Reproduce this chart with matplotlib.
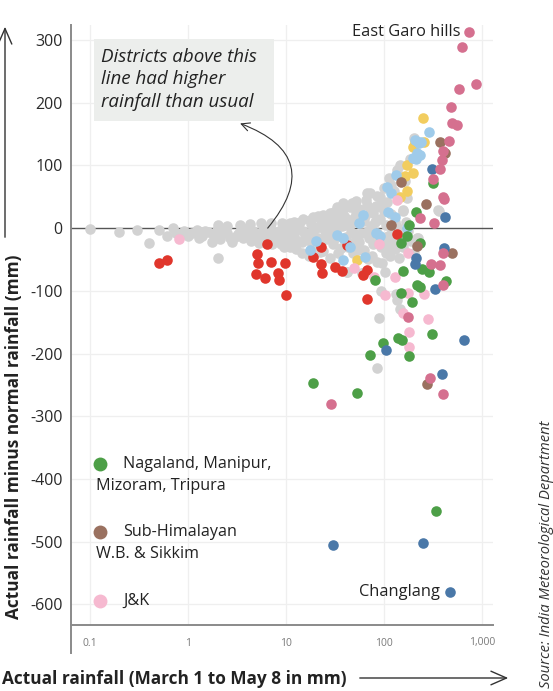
import matplotlib
matplotlib.use('Agg')
import matplotlib.pyplot as plt
from matplotlib.patches import Rectangle, FancyArrowPatch
from matplotlib.lines import Line2D

plt.rcParams['font.family'] = ['Open Sans', 'DejaVu Sans']

# ---------------- data (actual rainfall mm, departure mm) ----------------
gray_x = [0.10, 0.20, 0.30, 0.40, 0.51, 0.61, 0.70, 0.75, 0.9, 1.0, 1.23, 1.4, 1.6, 1.75, 1.97, 2.0,
          2.2, 2.5, 2.7, 3.0, 3.4, 3.8, 4.1, 4.6, 5.0, 5.8, 6.2, 7.0, 7.5, 8.0, 8.8, 9.5, 10, 11,
          12, 13, 14.5, 16, 18, 20, 22, 25, 28, 30, 33, 36, 40, 42, 44, 48, 50, 55, 59, 62, 70, 75,
          2.0, 2.5, 3.4, 4.3, 5.5, 7.0, 9.2, 11, 12, 14, 15, 17.6, 19, 22, 24, 28, 28, 33, 33, 37,
          38, 38, 45, 47, 56, 67, 67, 72, 78, 85, 91, 96, 100, 107, 118, 136, 158, 158, 172, 202,
          355, 363, 217, 223, 10, 13, 15, 18, 20, 23, 26, 30, 32, 35, 40, 42, 46, 50, 55, 58, 63,
          68, 72, 80, 85, 90, 95, 105, 110, 120, 130, 140, 150, 89, 93, 136, 146, 132, 96, 85, 59,
          42, 107, 128, 85, 102, 115, 175, 190, 200, 8.5, 9.8, 11.5, 6.8, 16.5, 21, 26, 31, 52,
          65, 82, 112, 125, 145, 165, 185,
          1.1, 1.3, 1.5, 1.8, 2.1, 2.4, 2.8, 3.2, 3.6, 4.0, 4.4, 4.8, 5.3, 5.6, 6.0, 6.6, 7.2, 7.8,
          8.4, 9.0, 9.6, 10.5, 11.5, 12.5, 13.5, 14.5, 15.5, 17, 18.5, 19.5, 21, 22.5, 24, 25.5,
          27, 29, 31, 34, 37, 39, 41, 43, 46, 49, 52, 54, 57, 60, 64, 69, 74, 78, 83, 88, 94, 99,
          104, 112, 118, 125, 135, 142, 155, 168]
gray_y = [-2, -6, -3, -24, -3, -13, 0, -8, -5, -13, -3, -12, -6, -22, -3, -48,
          -2, -8, -16, -14, -6, -2, -11, -4, -16, 0, -10, -4, -18, -8, -25, -14, -3, -30,
          -12, -20, -40, -8, -22, -15, -38, -5, -48, -25, -12, -32, -20, -70, -27, -40, -10, -22, -72, -35, -15, -45,
          5, 3, 5, 6, 8, 8, 8, 8, 10, 10, 14, 13, 18, 18, 21, 16, 24, 21, 34, 32,
          31, 40, 33, 40, 30, 37, 56, 56, 24, 51, 49, 40, 64, 41, 69, 92, 29, 27, 48, 143,
          29, 27, -16, -16, 2, 3, -5, 6, 0, 10, 4, 8, -3, 12, 5, 15, -6, 18, 8, 22, 12,
          -4, 30, 10, -8, 15, -20, 5, -12, -3, 10, -20, -8, -143, -100, -115, -129, -105, -56, -54, -72,
          -70, -32, -34, -223, -70, -45, -5, -20, -40, -12, -20, -5, 4, -18, 20, -14, 26, 44,
          45, 35, 80, 60, 100, 75, 110,
          -8, -16, -4, -10, -18, -4, -22, -9, -15, -6, -20, -9, -24, -12, -3, -17, -26, -11,
          -4, -16, -30, -20, -8, -34, -2, -22, -12, -44, -5, -28, -16, 2, -36, -18,
          -8, 12, -18, -40, 4, 20, -14, -30, 8, -22, 26, -35, 14, -8, 20, -50, 4, -25, 34, -14, -30, 28,
          -40, -18, 22, -25, 2, -48, -30, 10]

red_x = [0.51, 0.61, 6.4, 5.0, 5.2, 7.0, 9.8, 4.9, 6.1, 8.3, 8.5, 10, 18.9, 22.7, 23.3,
         31.6, 37, 23, 42, 67, 61, 136, 67]
red_y = [-56, -51, -26, -41, -56, -54, -56, -73, -80, -72, -83, -107, -46, -57, -72,
         -62, -69, -30, -27, -66, -75, -9, -113]

yellow_x = [250, 256, 198, 172, 198, 164, 172, 146, 53, 207]
yellow_y = [175, 137, 129, 100, 88, 83, 59, 49, -51, 137]

lightblue_x = [288, 207, 223, 230, 217, 233, 198, 210, 107, 118, 132, 110, 128, 56, 61, 172,
               38, 38, 17.6, 64, 83, 33, 240, 92, 20, 45]
lightblue_y = [153, 140, 137, 135, 120, 116, 112, 110, 65, 56, 85, 26, 18, 8, 21, 0,
               -16, -51, -35, -46, -8, -11, 138, -12, -20, -30]

blue_x = [308, 419, 409, 212, 207, 331, 655, 105, 391, 30, 251, 471]
blue_y = [94, 18, -32, -48, -57, -97, -179, -195, -233, -505, -503, -580]

mauve_x = [736, 625, 582, 870, 483, 494, 556, 460, 400, 391, 372, 316, 400, 409, 323, 233,
           302, 372, 400, 400, 176, 294, 400, 28.8]
mauve_y = [313, 289, 222, 230, 193, 167, 164, 139, 123, 108, 94, 78, 49, 46, 8, 16,
           -57, -59, -91, -40, -142, -239, -265, -281]

brown_x = [372, 419, 149, 270, 118, 217, 494, 276]
brown_y = [137, 120, 73, 38, 5, -29, -40, -249]

green_x = [316, 212, 180, 172, 149, 233, 244, 288, 158, 81, 430, 217, 233, 149, 193, 309,
           98, 139, 151, 72, 180, 18.9, 53, 339]
green_y = [72, 26, 5, -13, -24, -24, -65, -70, -68, -83, -84, -91, -94, -104, -118, -169,
           -183, -175, -179, -203, -204, -247, -263, -451]

jk_x = [0.81, 89, 176, 79, 129, 102, 176, 256, 158, 281, 180, 180, 49, 136]
jk_y = [-18, -26, -40, -78, -78, -107, -104, -105, -136, -145, -166, -190, -64, 45]

legend_labels = ["Nagaland, Manipur,\nMizoram, Tripura", "Sub-Himalayan\nW.B. & Sikkim", "J&K"]
x_ticks = [0.1, 1, 10, 100, 1000]
x_tick_labels = ["0.1", "1", "10", "100", "1,000"]
y_ticks = [-600, -500, -400, -300, -200, -100, 0, 100, 200, 300]

# ---------------- colours ----------------
C_GRAY = '#d2d2d2'
C_RED = '#e0362c'
C_YEL = '#f2cd5f'
C_LBLUE = '#9fcbea'
C_BLUE = '#4a78a8'
C_MAUVE = '#d5708f'
C_BROWN = '#9a7160'
C_GREEN = '#4d9f47'
C_PINK = '#f6b9d0'

W, H = 553, 691
fig = plt.figure(figsize=(W / 100, H / 100), dpi=100)
fig.patch.set_facecolor('white')


def fx(px):
    return px / W


def fy(py):
    return 1 - py / H


ax = fig.add_axes([fx(71), fy(625), (493 - 71) / W, (625 - 25) / H])
ax.set_xscale('log')
ax.set_xlim(0.064, 1294)
ax.set_ylim(-633, 324)

for s in ['top', 'right', 'left']:
    ax.spines[s].set_visible(False)
ax.spines['bottom'].set_color('#8a8a8a')
ax.spines['bottom'].set_linewidth(1.4)
# left spine extending below the axis
ax.add_line(Line2D([0, 0], [1, -0.047], transform=ax.transAxes, color='#8a8a8a',
                   lw=1.4, clip_on=False, zorder=3))

ax.set_xticks(x_ticks)
ax.set_xticklabels(x_tick_labels)
ax.minorticks_off()
ax.set_yticks(y_ticks)
ax.set_yticklabels([str(v) for v in y_ticks])
ax.tick_params(axis='x', length=0, pad=9, labelsize=7.5, labelcolor='#7a7a7a')
ax.tick_params(axis='y', length=0, pad=6, labelsize=11.5, labelcolor='#2a2a2a')

for v in x_ticks:
    ax.axvline(v, color='#efefef', lw=0.9, zorder=0)
for v in y_ticks:
    if v != 0:
        ax.axhline(v, color='#efefef', lw=0.9, zorder=0)
ax.axhline(0, color='#555555', lw=1.0, zorder=1)

S = 58
ax.scatter(gray_x, gray_y, s=S, color=C_GRAY, linewidths=0, zorder=2)
for xs, ys, c in [(red_x, red_y, C_RED), (yellow_x, yellow_y, C_YEL),
                  (lightblue_x, lightblue_y, C_LBLUE), (jk_x, jk_y, C_PINK),
                  (green_x, green_y, C_GREEN), (brown_x, brown_y, C_BROWN),
                  (blue_x, blue_y, C_BLUE), (mauve_x, mauve_y, C_MAUVE)]:
    ax.scatter(xs, ys, s=S, color=c, linewidths=0, zorder=3)

# point labels
ax.annotate('East Garo hills', xy=(mauve_x[0], mauve_y[0]), xytext=(-6, 0),
            textcoords='offset points', ha='right', va='center', fontsize=11.8, color='#222222')
ax.annotate('Changlang', xy=(blue_x[-1], blue_y[-1]), xytext=(-7, 0),
            textcoords='offset points', ha='right', va='center', fontsize=11.8, color='#222222')

# legend
leg_cols = [C_GREEN, C_BROWN, C_PINK]
leg_y = [464, 532, 601]
for c, py, lab in zip(leg_cols, leg_y, legend_labels):
    ax.plot([fx(100)], [fy(py)], 'o', ms=10, color=c, mec='none',
            transform=fig.transFigure, clip_on=False)
    lines = lab.split('\n')
    fig.text(fx(123), fy(py), lines[0], ha='left', va='center', fontsize=11.6, color='#222222')
    if len(lines) > 1:
        fig.text(fx(96), fy(py + 22.5), lines[1], ha='left', va='center', fontsize=11.6,
                 color='#222222')

# annotation box
fig.add_artist(Rectangle((fx(94), fy(121)), (274 - 94) / W, (121 - 39) / H,
                         transform=fig.transFigure, facecolor='#eceeec', edgecolor='none',
                         zorder=2))
for i, t in enumerate(["Districts above this", "line had higher", "rainfall than usual"]):
    fig.text(fx(101), fy(57 + 22.5 * i), t, ha='left', va='center', fontsize=13.5,
             style='italic', color='#222222', zorder=3)

ax.annotate('', xy=(3.4, 167), xytext=(6.5, 0),
            arrowprops=dict(arrowstyle='->,head_length=0.6,head_width=0.3',
                            connectionstyle='arc3,rad=0.7', color='#333333', lw=0.8,
                            shrinkA=0, shrinkB=0), zorder=4)

# axis arrows
fig.add_artist(FancyArrowPatch((fx(5), fy(240)), (fx(5), fy(24)), transform=fig.transFigure,
                               arrowstyle='->,head_length=0.8,head_width=0.35', color='#333333',
                               lw=1.0, mutation_scale=14))
fig.add_artist(FancyArrowPatch((fx(357), fy(678)), (fx(511), fy(678)), transform=fig.transFigure,
                               arrowstyle='->,head_length=0.8,head_width=0.35', color='#333333',
                               lw=1.0, mutation_scale=14))

# axis titles
fig.text(fx(2), fy(679), 'Actual rainfall (March 1 to May 8 in mm)', ha='left', va='center',
         fontsize=12.4, fontweight='bold', color='#222222')
fig.text(fx(14), fy(437), 'Actual rainfall minus normal rainfall (mm)', ha='center',
         va='center', rotation=90, fontsize=12.4, fontweight='bold', color='#222222')
fig.text(fx(547), fy(688), 'Source: India Meteorological Department', ha='center',
         va='bottom', rotation=90, fontsize=10.6, style='italic', color='#333333')

fig.savefig('out.png', dpi=100, facecolor='white')
